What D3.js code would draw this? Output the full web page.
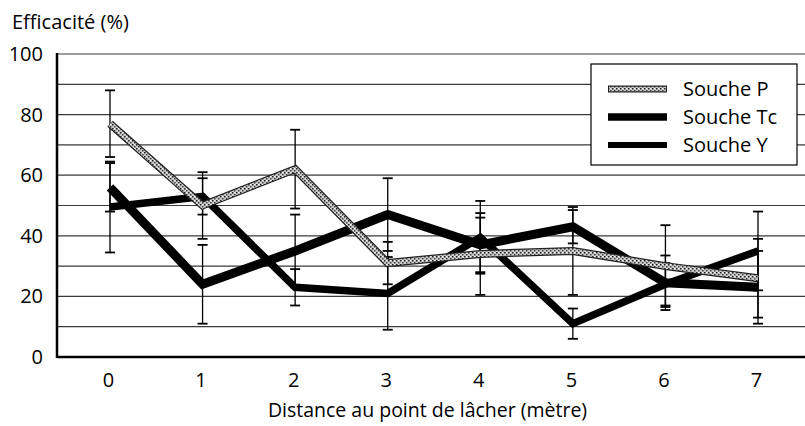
<!DOCTYPE html>
<html><head><meta charset="utf-8">
<script src="https://cdn.jsdelivr.net/npm/d3@7/dist/d3.min.js"></script>
<style>body{margin:0;background:#fff}svg{display:block}text{font-family:"Open Sans",sans-serif;fill:#000}</style>
</head><body>
<script>
const distances = [0, 1, 2, 3, 4, 5, 6, 7];
const yTicks = [0, 20, 40, 60, 80, 100];
const gridValues = [10, 20, 30, 40, 50, 60, 70, 80, 90, 100];
const seriesNames = ["Souche P", "Souche Tc", "Souche Y"];
const valuesP  = [77, 50, 62, 31, 34, 35, 30, 26];
const errP     = [11, 11, 13, 7, 13.5, 14.5, 13.5, 13];
const valuesTc = [56, 24, 35, 47, 37, 43, 24.5, 23];
const errTc    = [8, 13, 12, 12, 9, 5.5, 9, 12];
const valuesY  = [49.5, 53, 23, 21, 39.5, 11, 24, 35];
const errY     = [15, 6, 6, 12, 12, 5, 7, 13];
const yTitle = "Efficacité (%)";
const xTitle = "Distance au point de lâcher (mètre)";

const W = 805, H = 426;
const svg = d3.select("body").append("svg").attr("width", W).attr("height", H);

const defs = svg.append("defs");
const pat = defs.append("pattern").attr("id", "speck").attr("patternUnits", "userSpaceOnUse")
  .attr("width", 4).attr("height", 4);
pat.append("rect").attr("width", 4).attr("height", 4).attr("fill", "#c8c8c8");
pat.append("rect").attr("x", 0).attr("y", 0).attr("width", 1.5).attr("height", 1.5).attr("fill", "#222");
pat.append("rect").attr("x", 2).attr("y", 2).attr("width", 1.5).attr("height", 1.5).attr("fill", "#444");
pat.append("rect").attr("x", 2).attr("y", 0).attr("width", 1).attr("height", 1).attr("fill", "#fff");

const plotLeft = 57, plotRight = 805, plotTop = 54, plotBottom = 357;
const x = d3.scaleLinear().domain([0, 7]).range([110, 758]);
const y = d3.scaleLinear().domain([0, 100]).range([plotBottom, plotTop]);

// grid
svg.append("g").selectAll("line").data(gridValues).join("line")
  .attr("x1", plotLeft).attr("x2", plotRight)
  .attr("y1", d => y(d)).attr("y2", d => y(d))
  .attr("stroke", "#3a3a3a").attr("stroke-width", 1.2);

// axes
const yAxis = d3.axisLeft(y).tickValues(yTicks).tickSize(0).tickPadding(14);
const gy = svg.append("g").attr("transform", `translate(${plotLeft},0)`).call(yAxis);
gy.select(".domain").remove();
gy.selectAll("text").style("font-size", "20px").attr("fill", "#000");

const xAxis = d3.axisBottom(x).tickValues(distances).tickSize(0).tickPadding(16).tickFormat(d3.format("d"));
const gx = svg.append("g").attr("transform", `translate(-2,${plotBottom})`).call(xAxis);
gx.select(".domain").remove();
gx.selectAll("text").style("font-size", "20px").attr("fill", "#000");

svg.append("line").attr("x1", plotLeft).attr("x2", plotLeft).attr("y1", plotTop - 1).attr("y2", plotBottom + 1)
  .attr("stroke", "#000").attr("stroke-width", 2.5);
svg.append("line").attr("x1", plotLeft).attr("x2", plotRight).attr("y1", plotBottom).attr("y2", plotBottom)
  .attr("stroke", "#000").attr("stroke-width", 2.5);

// titles
svg.append("text").attr("x", 12).attr("y", 29).style("font-size", "20px").text(yTitle);
svg.append("text").attr("x", (268 + 587) / 2).attr("y", 417).attr("text-anchor", "middle")
  .style("font-size", "19.5px").text(xTitle);

// error bars
const series = [
  {name: seriesNames[0], vals: valuesP, err: errP},
  {name: seriesNames[1], vals: valuesTc, err: errTc},
  {name: seriesNames[2], vals: valuesY, err: errY}
];
const eb = svg.append("g").attr("stroke", "#000").attr("stroke-width", 1.3);
series.forEach(s => {
  s.vals.forEach((v, i) => {
    const cx = x(distances[i]);
    eb.append("line").attr("x1", cx).attr("x2", cx).attr("y1", y(v - s.err[i])).attr("y2", y(v + s.err[i]));
    [v - s.err[i], v + s.err[i]].forEach(e => {
      eb.append("line").attr("x1", cx - 5).attr("x2", cx + 5).attr("y1", y(e)).attr("y2", y(e)).attr("stroke-width", 1.8);
    });
  });
});

const line = d3.line().x((d, i) => x(distances[i])).y(d => y(d));
// Y
svg.append("path").attr("d", line(valuesY)).attr("fill", "none").attr("stroke", "#000")
  .attr("stroke-width", 7.5).attr("stroke-linejoin", "miter");
// Tc
svg.append("path").attr("d", line(valuesTc)).attr("fill", "none").attr("stroke", "#000")
  .attr("stroke-width", 9).attr("stroke-linejoin", "miter");
// P
svg.append("path").attr("d", line(valuesP)).attr("fill", "none").attr("stroke", "#222")
  .attr("stroke-width", 8).attr("stroke-linejoin", "miter");
svg.append("path").attr("d", line(valuesP)).attr("fill", "none").attr("stroke", "url(#speck)")
  .attr("stroke-width", 5.5).attr("stroke-linejoin", "miter");

// legend
const lg = svg.append("g");
lg.append("rect").attr("x", 591).attr("y", 64).attr("width", 206).attr("height", 101)
  .attr("fill", "#fff").attr("stroke", "#000").attr("stroke-width", 1.2);
const rowsY = [89, 117, 145];
const sampleW = [8, 9, 7.5];
series.forEach((s, i) => {
  if (i === 0) {
    lg.append("line").attr("x1", 608).attr("x2", 667).attr("y1", rowsY[i]).attr("y2", rowsY[i])
      .attr("stroke", "#222").attr("stroke-width", 7);
    lg.append("line").attr("x1", 609).attr("x2", 666).attr("y1", rowsY[i]).attr("y2", rowsY[i])
      .attr("stroke", "url(#speck)").attr("stroke-width", 4.5);
  } else {
    lg.append("line").attr("x1", 608).attr("x2", 667).attr("y1", rowsY[i]).attr("y2", rowsY[i])
      .attr("stroke", "#000").attr("stroke-width", sampleW[i] - 1.5);
  }
  lg.append("text").attr("x", 683).attr("y", rowsY[i]).attr("dy", "0.35em")
    .style("font-size", "20px").text(s.name);
});
</script>
</body></html>
